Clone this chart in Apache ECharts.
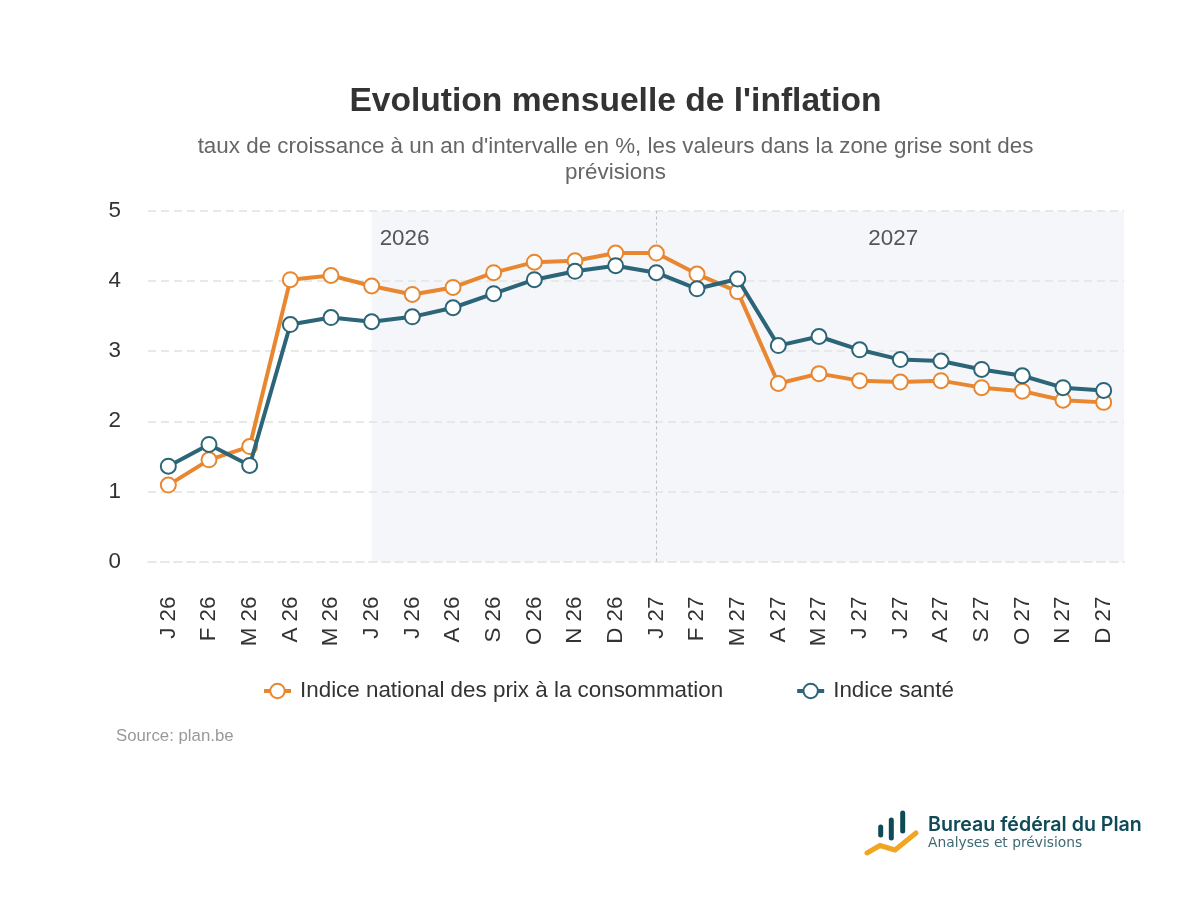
<!DOCTYPE html>
<html><head><meta charset="utf-8">
<style>html,body{margin:0;padding:0;background:#fff}#c{width:1200px;height:900px}</style>
<script src="https://cdn.jsdelivr.net/npm/echarts@6/dist/echarts.min.js"></script>
</head><body><div id="c"></div>
<script>
const categories = ['J 26','F 26','M 26','A 26','M 26','J 26','J 26','A 26','S 26','O 26','N 26','D 26','J 27','F 27','M 27','A 27','M 27','J 27','J 27','A 27','S 27','O 27','N 27','D 27'];
const inpc = [1.09,1.45,1.64,4.02,4.08,3.93,3.81,3.91,4.12,4.27,4.29,4.40,4.40,4.10,3.85,2.54,2.68,2.58,2.56,2.58,2.48,2.43,2.30,2.27];
const sante = [1.36,1.67,1.37,3.38,3.48,3.42,3.49,3.62,3.82,4.02,4.14,4.22,4.12,3.89,4.03,3.08,3.21,3.02,2.88,2.86,2.74,2.65,2.48,2.44];
const forecastStart = 5, yearBreak = 12;
const FONT = '"Liberation Sans", Arial, sans-serif';
const gridLine = {color:'#E8E8E8', width:2, type:[8,5]};
const chart = echarts.init(document.getElementById('c'), null, {renderer:'canvas'});
const lineSeries = (name, data, color, z) => ({
  name, type:'line', data, z, symbol:'circle', symbolSize:15, showSymbol:true,
  lineStyle:{color, width:4}, itemStyle:{color:'#fff', borderColor:color, borderWidth:2}
});
chart.setOption({
  animation:false,
  backgroundColor:'#fff',
  textStyle:{fontFamily:FONT},
  title:[
    {text:"Evolution mensuelle de l'inflation", left:610.5, top:80, textAlign:'center',
     textStyle:{fontFamily:FONT, fontSize:33.6, fontWeight:'bold', color:'#333'}},
    {text:"taux de croissance à un an d'intervalle en %, les valeurs dans la zone grise sont des\nprévisions", left:610.5, top:129, textAlign:'center',
     textStyle:{fontFamily:FONT, fontSize:22.4, fontWeight:'normal', color:'#666', lineHeight:26}},
    {text:'Source: plan.be', left:111, top:723,
     textStyle:{fontFamily:FONT, fontSize:16.8, fontWeight:'normal', color:'#999'}}
  ],
  legend:{
    left:257, top:675, itemWidth:27, itemHeight:18, itemGap:72,
    lineStyle:{width:4},
    textStyle:{fontFamily:FONT, fontSize:22.4, color:'#333', padding:[0,0,0,4]},
    data:['Indice national des prix à la consommation','Indice santé']
  },
  grid:{left:148, right:76, top:211, bottom:338.5, containLabel:false},
  xAxis:[
    {type:'category', data:categories, boundaryGap:true, offset:2,
     axisLine:{show:true, lineStyle:gridLine}, axisTick:{show:false},
     axisLabel:{interval:0, rotate:90, margin:33, fontSize:22.4, color:'#333', fontFamily:FONT}},
    {type:'value', min:-0.5, max:23.5, show:false, splitLine:{show:false}}
  ],
  yAxis:{type:'value', min:0, max:5, interval:1, z:2,
    axisLine:{show:false}, axisTick:{show:false},
    axisLabel:{margin:27, fontSize:22.4, color:'#333', fontFamily:FONT, padding:[3,0,0,0]},
    splitLine:{show:true, showMinLine:false, lineStyle:gridLine}},
  series:[
    {type:'line', xAxisIndex:1, data:[], z:1, silent:true,
     markArea:{silent:true, z:0, itemStyle:{color:'#F4F6FA'},
       label:{fontFamily:FONT, fontSize:22.4, color:'#555', position:'insideTopLeft'},
       data:[
         [{xAxis:forecastStart, name:'2026', label:{position:[8,17]}},{xAxis:yearBreak}],
         [{xAxis:yearBreak, name:'2027', label:{position:[212,17]}},{xAxis:23.5}]
       ]},
     markLine:{silent:true, z:2, symbol:'none', label:{show:false},
       lineStyle:{color:'#BDBDBD', width:1, type:[3,3]},
       data:[{xAxis:yearBreak}]}},
    lineSeries('Indice national des prix à la consommation', inpc, '#E8872F', 3),
    lineSeries('Indice santé', sante, '#2C6478', 4)
  ],
  graphic:[
    {type:'line', shape:{x1:880.7,y1:827,x2:880.7,y2:835}, style:{stroke:'#0F4A57', lineWidth:5, lineCap:'round'}},
    {type:'line', shape:{x1:891.3,y1:820,x2:891.3,y2:838}, style:{stroke:'#0F4A57', lineWidth:5, lineCap:'round'}},
    {type:'line', shape:{x1:902.7,y1:813,x2:902.7,y2:831}, style:{stroke:'#0F4A57', lineWidth:5, lineCap:'round'}},
    {type:'polyline', shape:{points:[[867,853],[880,845.5],[895,850],[916,833]]}, style:{fill:null, stroke:'#F0A623', lineWidth:5, lineCap:'round', lineJoin:'round'}},
    {type:'text', x:928, y:815, style:{text:'Bureau fédéral du Plan', font:'600 19.6px Inter', fill:'#0F4A57'}},
    {type:'text', x:928, y:836, style:{text:'Analyses et prévisions', font:'13.8px "DejaVu Sans"', fill:'#3E6A74'}}
  ]
});
</script></body></html>
